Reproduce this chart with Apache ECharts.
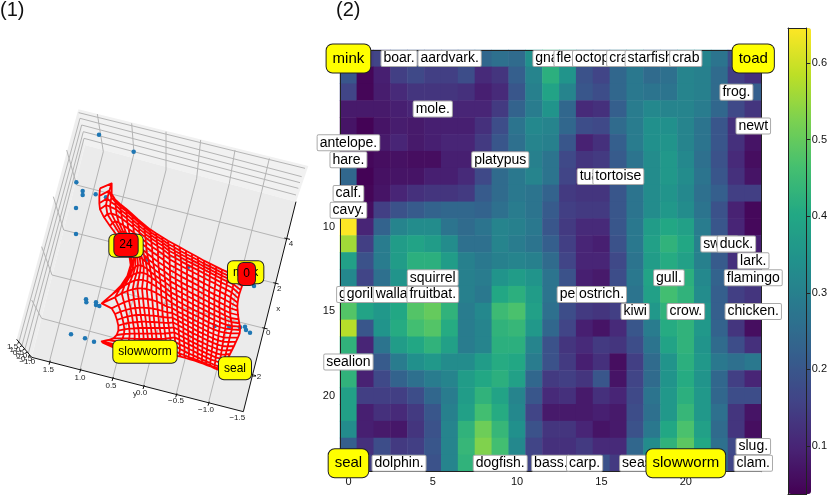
<!DOCTYPE html>
<html>
<head>
<meta charset="utf-8">
<style>html,body{margin:0;background:#fff}#chart{width:830px;height:495px}</style>
<script src="https://cdn.jsdelivr.net/npm/echarts@6/dist/echarts.min.js"></script>
</head>
<body>
<div id="chart"></div>
<script>
// (2) heat map values, rows top to bottom
const heatValues = [
  [.20,.15,.16,.20,.20,.20,.20,.22,.24,.26,.25,.34,.42,.36,.26,.24,.27,.30,.23,.24,.31,.31,.27,.18,.10],
  [.20,.045,.09,.15,.17,.15,.15,.18,.11,.13,.22,.31,.42,.35,.19,.16,.24,.28,.25,.26,.31,.30,.25,.15,.12],
  [.16,.045,.085,.11,.13,.13,.13,.12,.09,.11,.20,.30,.39,.31,.20,.18,.24,.28,.27,.27,.31,.30,.25,.20,.22],
  [.08,.08,.08,.09,.10,.10,.10,.10,.10,.14,.23,.29,.35,.24,.11,.12,.22,.29,.32,.31,.31,.29,.24,.17,.13],
  [.07,.04,.07,.085,.08,.09,.09,.09,.12,.18,.27,.32,.31,.24,.18,.17,.25,.29,.34,.34,.31,.27,.20,.12,.06],
  [.08,.06,.08,.10,.08,.09,.10,.10,.14,.20,.26,.31,.30,.20,.095,.12,.22,.29,.34,.35,.31,.27,.20,.12,.07],
  [.08,.05,.06,.065,.06,.06,.09,.09,.13,.17,.22,.30,.27,.17,.13,.14,.21,.27,.33,.36,.32,.26,.19,.11,.06],
  [.24,.04,.065,.07,.07,.09,.09,.11,.17,.25,.28,.31,.27,.16,.11,.13,.22,.27,.33,.36,.33,.27,.20,.12,.07],
  [.20,.045,.07,.10,.12,.13,.13,.14,.21,.25,.28,.27,.23,.14,.13,.13,.20,.27,.33,.35,.32,.26,.22,.15,.15],
  [.20,.06,.15,.19,.21,.23,.24,.24,.23,.26,.29,.27,.21,.15,.14,.14,.20,.27,.33,.36,.33,.27,.19,.095,.05],
  [.646,.10,.23,.31,.33,.33,.27,.25,.27,.31,.30,.28,.20,.14,.11,.11,.20,.28,.37,.40,.38,.29,.20,.10,.05],
  [.56,.15,.29,.37,.39,.37,.33,.26,.26,.31,.29,.27,.22,.15,.10,.09,.19,.28,.38,.43,.40,.30,.21,.13,.09],
  [.38,.19,.29,.37,.42,.42,.37,.30,.28,.30,.31,.30,.25,.16,.10,.10,.17,.27,.37,.41,.38,.30,.21,.12,.09],
  [.32,.16,.26,.35,.41,.42,.35,.30,.29,.35,.37,.35,.27,.19,.09,.08,.18,.28,.39,.44,.42,.32,.23,.15,.13],
  [.40,.35,.32,.38,.45,.48,.38,.30,.28,.40,.42,.37,.27,.20,.14,.13,.18,.27,.38,.46,.43,.33,.22,.15,.13],
  [.48,.39,.36,.40,.48,.50,.43,.29,.32,.45,.47,.38,.26,.18,.14,.13,.15,.27,.36,.43,.44,.35,.22,.15,.11],
  [.58,.20,.35,.41,.46,.48,.41,.29,.31,.43,.44,.36,.24,.16,.09,.07,.11,.20,.29,.41,.43,.36,.23,.13,.06],
  [.43,.10,.27,.37,.40,.43,.38,.29,.31,.42,.42,.31,.19,.13,.11,.14,.13,.18,.27,.39,.43,.35,.25,.18,.12],
  [.38,.22,.21,.29,.34,.36,.33,.33,.37,.41,.40,.29,.19,.14,.09,.12,.06,.15,.25,.35,.42,.36,.28,.26,.28],
  [.43,.095,.17,.23,.26,.29,.31,.37,.40,.42,.38,.24,.14,.15,.13,.20,.07,.16,.25,.35,.41,.35,.24,.15,.10],
  [.38,.15,.15,.15,.18,.24,.29,.37,.43,.39,.31,.20,.11,.12,.08,.12,.10,.17,.27,.36,.42,.36,.24,.18,.18],
  [.38,.09,.12,.11,.14,.20,.30,.38,.46,.41,.32,.16,.08,.08,.08,.09,.08,.18,.26,.36,.44,.36,.26,.13,.07],
  [.33,.09,.08,.075,.13,.19,.31,.43,.51,.44,.34,.19,.13,.13,.10,.07,.08,.19,.28,.40,.47,.38,.25,.13,.06],
  [.22,.12,.18,.14,.15,.20,.31,.44,.53,.46,.32,.16,.12,.12,.14,.11,.11,.24,.33,.43,.49,.40,.26,.17,.12],
  [.30,.15,.18,.20,.18,.19,.31,.43,.50,.44,.31,.16,.11,.12,.14,.19,.14,.24,.35,.44,.50,.40,.26,.16,.10]
];
const heatIndex = heatValues.map((_, i) => i);
const colorMin = 0.037, colorMax = 0.646;
const colorTicks = [0.1, 0.2, 0.3, 0.4, 0.5, 0.6];
const viridis = ['#440154','#482475','#414487','#355f8d','#2a788e','#21918c','#22a884','#44bf70','#7ad151','#bddf26','#fde725'];

// animals on the map, [name, column, row], later ones sit on top
const cornerAnimals = [['mink',0,0],['toad',24,0],['seal',0,24],['slowworm',20,24]];
const animals = [
  ['boar.',3,0],['aardvark.',6,0],['gnat.',12,0],['flea',13,0],['octopus.',15,0],['crayfish.',17,0],['starfish.',18,0],['crab',20,0],
  ['frog.',23,2],['mole.',5,3],['newt',24,4],['antelope.',0,5],['hare.',0,6],['platypus',9,6],['tuatara',15,7],['tortoise',16,7],
  ['calf.',0,8],['cavy.',0,9],['swan',22,11],['duck.',23,11],['lark.',24,12],['squirrel',5,13],['gull.',19,13],['flamingo',24,13],
  ['girl',0,14],['gorilla',1,14],['wallaby',3,14],['fruitbat.',5,14],['penguin',14,14],['ostrich.',15,14],
  ['kiwi',17,15],['crow.',20,15],['chicken.',24,15],['sealion',0,18],['slug.',24,23],
  ['dolphin.',3,24],['dogfish.',9,24],['bass.',12,24],['carp.',14,24],['seasnake',18,24],['clam.',24,24]
];

// (1) flattened view of the 3D plot, values read in view units
const wallPolys = [
  {pts:[[235,58],[255,165],[95,802],[50,748]], color:'#eeeeee'},
  {pts:[[235,58],[925,228],[888,335],[255,165]], color:'#f1f1f1'},
  {pts:[[255,165],[888,335],[730,965],[95,802]], color:'#ebebeb'}
];
const gridLines = [
  [[292,72],[310,185],[148,816]],[[395,100],[402,190],[240,840]],[[498,125],[498,240],[338,866]],
  [[602,150],[590,265],[430,890]],[[705,180],[688,280],[528,915]],[[808,205],[785,305],[625,940]],
  [[236,68],[915,235]],[[240,85],[905,260]],[[245,105],[900,278]],[[250,125],[895,295]],[[252,145],[888,315]],
  [[200,180],[230,285],[860,448]],[[160,320],[191,420],[826,580]],[[125,470],[156,555],[793,715]],[[95,630],[125,685],[758,855]],
  [[240,85],[57,755]],[[245,105],[66,766]],[[250,125],[75,777]],[[252,145],[85,790]]
];
const axisLines = [
  [[50,748],[95,802],[730,965],[888,335]],
  [[151,812],[147,824]],[[243,836],[239,848]],[[340,861],[336,873]],[[433,885],[429,897]],[[531,910],[527,922]],[[628,935],[624,947]],
  [[853,444],[870,448]],[[820,578],[836,582]],[[787,713],[803,717]],[[752,853],[768,857]],
  [[58,757],[52,760]],[[66,767],[60,770]],[[74,777],[68,780]],[[82,786],[76,789]],[[90,796],[84,799]]
];
const axisTexts = [
  ['1.5',145,838],['1.0',240,862],['0.5',333,888],['y',405,911],['0.0',425,909],['\u22120.5',528,933],['\u22121.0',618,958],['\u22121.5',712,982],
  ['4',873,462],['2',838,595],['x',835,657],['0',805,727],['\u22122',770,860],
  ['1.5',38,770],['1.0',45,778],['0.5',55,787],['0.0',65,797],['\u22120.5',73,806],['\u22121.0',82,815]
];
const scatterPoints = [[297,134],[401,185],[229,277],[248,303],[248,315],[287,313],[228,354],[228,432],[318,322],[438,510],[565,530],
  [258,628],[259,637],[288,637],[288,645],[298,648],[213,733],[255,745],[282,755],[644,708],[688,710],[720,712],[735,710],[738,720],[750,728],[762,588]];

const meshX = [
  [300,335,335,345,360,378,396,414,432,450,468,486,504,522,540,558,576,594,612,630,648,666,684,706,735],
  [298,328,334,346,361,379,397,415,433,451,469,487,505,523,540,558,576,594,612,630,648,665,683,704,730],
  [298,322,332,347,362,380,398,416,434,452,470,488,506,524,541,559,577,595,612,630,648,665,683,702,726],
  [300,318,330,348,364,381,399,417,435,453,471,489,507,525,542,560,577,595,612,630,647,664,681,700,722],
  [312,322,334,350,366,382,400,418,436,454,472,490,508,526,543,560,577,595,612,629,646,663,680,698,718],
  [330,338,346,357,370,385,402,420,438,456,474,491,509,527,544,561,578,595,612,629,646,662,678,695,715],
  [352,357,362,369,378,390,404,421,439,457,474,491,509,527,544,561,578,595,612,628,644,660,676,692,713],
  [375,378,381,385,391,400,411,425,441,458,475,492,510,527,544,561,578,595,611,627,643,659,675,691,712],
  [388,390,393,397,402,410,420,432,445,460,476,493,510,527,544,561,578,595,611,627,643,658,674,690,713],
  [392,396,401,406,412,419,427,437,449,463,478,494,511,528,545,562,578,595,611,627,643,658,674,690,714],
  [382,390,398,406,414,422,431,441,452,465,480,496,512,529,546,562,579,595,611,627,643,659,675,692,716],
  [362,376,388,399,410,420,431,443,455,468,482,497,513,530,546,563,579,595,611,627,643,659,676,694,718],
  [338,358,374,389,403,416,429,442,455,469,483,498,514,531,547,563,579,595,611,627,643,660,677,696,720],
  [305,345,365,382,398,412,426,440,454,469,484,499,515,531,547,563,579,595,610,626,642,659,676,696,720],
  [335,355,372,387,402,416,429,443,457,471,486,501,516,532,548,563,579,594,610,625,641,657,673,692,719],
  [345,362,378,392,406,419,432,446,459,473,487,502,517,533,548,564,579,594,609,624,640,655,671,689,714],
  [351,367,382,396,409,422,435,448,461,475,489,503,518,534,549,564,579,594,609,624,639,654,669,686,708],
  [355,371,386,399,412,425,438,450,463,477,491,505,519,535,550,564,579,594,608,623,638,652,667,683,702],
  [355,373,388,402,415,428,440,453,465,479,493,507,521,536,550,565,579,593,608,622,637,651,665,680,696],
  [350,372,389,404,417,430,442,455,468,482,495,509,523,537,551,565,579,593,607,621,635,649,663,677,690],
  [340,368,388,404,418,431,444,457,470,484,497,511,524,538,552,566,580,593,607,620,634,647,661,674,684],
  [325,360,384,402,418,432,445,459,472,486,499,512,526,539,553,567,580,593,606,619,632,646,659,671,678],
  [305,352,378,398,415,430,444,459,473,486,500,514,527,540,554,567,580,593,606,619,631,644,656,667,674],
  [305,345,370,390,408,424,439,454,468,482,496,510,524,538,552,566,580,593,606,618,630,642,653,663,670],
  [308,340,362,380,398,414,430,446,462,478,494,510,526,542,556,570,584,598,610,622,634,644,654,662,668]
];
const meshY = [
  [295,280,312,328,342,356,372,388,403,418,430,441,452,462,472,482,492,502,512,521,530,539,547,554,562],
  [318,302,322,336,350,364,380,396,411,426,438,449,462,472,482,492,501,511,521,530,539,548,556,563,575],
  [340,325,335,346,360,374,390,406,421,435,447,458,472,482,492,502,511,520,530,539,548,557,565,573,588],
  [358,345,350,358,372,386,401,416,431,445,457,468,482,492,502,512,521,530,539,548,557,566,574,583,600],
  [382,372,370,376,386,398,412,427,442,456,468,479,494,504,514,523,532,541,550,559,568,577,585,594,612],
  [408,398,394,398,406,416,428,442,457,470,482,494,508,518,528,537,546,555,564,573,581,590,598,607,625],
  [438,428,424,424,428,436,446,458,472,486,498,510,524,534,544,553,562,571,580,589,597,605,613,622,638],
  [470,460,452,450,452,458,466,477,490,503,516,527,540,550,560,569,578,587,596,605,613,621,629,638,650],
  [497,488,480,476,476,480,486,495,508,520,533,544,557,567,577,586,594,603,612,621,629,637,645,654,662],
  [525,516,508,502,500,502,507,515,526,538,550,561,574,583,593,602,611,620,628,637,645,653,661,669,675],
  [558,548,538,530,526,526,530,536,546,556,567,577,590,600,609,618,627,636,644,652,660,668,676,684,688],
  [588,574,562,554,549,547,549,554,563,572,583,594,607,616,625,634,643,651,659,667,675,683,690,696,700],
  [612,598,586,578,572,569,570,574,581,590,600,610,622,632,641,650,658,666,674,682,690,697,704,708,710],
  [640,622,610,603,598,595,595,597,602,609,618,627,638,648,657,665,673,681,689,697,704,711,716,718,720],
  [655,645,637,632,628,626,625,627,630,635,642,650,654,664,672,680,688,696,703,711,718,724,728,730,730],
  [672,665,660,656,654,653,653,654,656,659,663,667,669,678,686,694,702,710,717,725,732,738,742,743,742],
  [690,684,680,677,675,675,675,676,677,679,681,683,683,692,700,708,716,724,731,738,745,751,755,756,755],
  [707,702,699,697,696,695,695,696,696,697,698,699,697,706,714,722,730,737,744,751,758,764,768,769,768],
  [722,718,716,715,714,714,714,714,714,714,714,714,712,720,728,736,744,751,758,765,771,777,781,781,780],
  [735,732,731,731,731,731,731,731,731,731,730,729,727,735,742,750,757,764,771,778,784,790,794,793,792],
  [745,745,745,746,747,747,747,747,747,747,746,744,742,749,756,763,770,777,784,790,796,802,806,805,804],
  [750,756,758,760,761,761,762,762,762,762,761,759,756,763,770,777,783,790,796,802,808,813,818,817,816],
  [754,765,768,771,773,774,775,775,775,776,775,774,769,777,784,791,796,802,808,814,819,825,829,829,828],
  [756,770,773,776,778,780,781,782,783,784,784,784,783,790,795,801,806,811,816,821,826,831,835,837,838],
  [758,772,776,779,781,783,785,787,789,791,793,795,797,800,804,808,812,817,821,826,830,835,839,844,848]
];
const panelRed = [['0',740,552],['24',378,465]];
const panelYellowBack = [['mink',737,547],['toad',378,467]];
const panelYellowFront = [['slowworm',435,785],['seal',705,835]];

const fontName = 'Liberation Sans';
const chart = echarts.init(document.getElementById('chart'), null, {renderer: 'canvas'});

// one polyline list into a single line with breaks
function withBreaks(lines) {
  let out = [];
  lines.forEach(l => { out = out.concat(l); out.push([null, null]); });
  return out;
}
const meshRows = meshX.map((xs, r) => xs.map((x, c) => [x, meshY[r][c]]));
const meshCols = heatIndex.map(c => meshRows.map(row => row[c]));

function heatCells() {
  const out = [];
  heatValues.forEach((row, r) => row.forEach((v, c) => out.push([c, r, v])));
  return out;
}
function hiddenAxis(extra) {
  return Object.assign({type: 'value', show: false, splitLine: {show: false}}, extra);
}
function frameAxis(gridIndex, position, extra) {
  return Object.assign({
    gridIndex, position, z: 6,
    axisLine: {show: true, onZero: false, lineStyle: {color: '#222', width: 1}},
    axisTick: {show: false}, axisLabel: {show: false}, splitLine: {show: false}
  }, extra);
}
function animalLabels(list) {
  return list.map(a => ({name: a[0], value: [a[1], a[2]]}));
}
const fiveStep = i => i % 5 === 0;
const heatAxisText = {fontFamily: fontName, fontSize: 11, color: '#111', margin: 5};

function labelSeries(name, data, xi, yi, z, label) {
  return {
    name, type: 'scatter', xAxisIndex: xi, yAxisIndex: yi, z, clip: false, silent: true,
    symbolSize: 1, itemStyle: {color: 'transparent', opacity: 1}, data,
    label: Object.assign({show: true, position: 'inside', formatter: '{b}', fontFamily: fontName, color: '#000'}, label)
  };
}
const whiteBox = {fontSize: 14, lineHeight: 15, backgroundColor: '#fff', borderColor: '#aaa', borderWidth: 1, borderRadius: 1, padding: [0, 2]};
const bigYellow = {fontSize: 15, lineHeight: 16, backgroundColor: '#ffff00', borderColor: '#222', borderWidth: 1, borderRadius: 6, padding: [6, 6]};
const smallBox = color => ({fontSize: 12, lineHeight: 14, backgroundColor: color, borderColor: '#222', borderWidth: 1, borderRadius: 5, padding: [4, 5]});
const textItems = list => list.map(t => ({name: t[0], value: [t[1], t[2]]}));

const option = {
  animation: false,
  backgroundColor: '#fff',
  title: [
    {text: '(1)', left: 0, top: 0, padding: 0, textStyle: {fontFamily: fontName, fontSize: 20, fontWeight: 'normal', color: '#111'}},
    {text: '(2)', left: 336, top: 0, padding: 0, textStyle: {fontFamily: fontName, fontSize: 20, fontWeight: 'normal', color: '#111'}}
  ],
  grid: [
    {left: 0, top: 90, width: 310, height: 340},
    {left: 340, top: 50, width: 421.7, height: 421.7},
    {left: 788, top: 28, width: 23, height: 466}
  ],
  xAxis: [
    hiddenAxis({gridIndex: 0, min: 0, max: 930}),
    {type: 'category', gridIndex: 1, data: heatIndex, position: 'bottom', z: 6,
      axisLine: {onZero: false, lineStyle: {color: '#222', width: 1}},
      axisTick: {alignWithLabel: true, interval: fiveStep, length: 3.5, lineStyle: {color: '#222'}},
      axisLabel: Object.assign({interval: fiveStep}, heatAxisText), splitLine: {show: false}},
    frameAxis(1, 'top', {type: 'category', data: heatIndex}),
    frameAxis(2, 'top', {type: 'value', min: 0, max: 1}),
    frameAxis(2, 'bottom', {type: 'value', min: 0, max: 1})
  ],
  yAxis: [
    hiddenAxis({gridIndex: 0, min: 0, max: 1020, inverse: true}),
    {type: 'category', gridIndex: 1, data: heatIndex, inverse: true, position: 'left', z: 6,
      axisLine: {onZero: false, lineStyle: {color: '#222', width: 1}},
      axisTick: {alignWithLabel: true, interval: fiveStep, length: 3.5, lineStyle: {color: '#222'}},
      axisLabel: Object.assign({interval: fiveStep}, heatAxisText), splitLine: {show: false}},
    frameAxis(1, 'right', {type: 'category', data: heatIndex, inverse: true}),
    frameAxis(2, 'left', {type: 'value', min: colorMin, max: colorMax}),
    {type: 'value', gridIndex: 2, position: 'right', min: colorMin, max: colorMax, z: 6,
      axisLine: {show: true, onZero: false, lineStyle: {color: '#222', width: 1}},
      axisTick: {show: true, length: 3.5, customValues: colorTicks, lineStyle: {color: '#222'}},
      axisLabel: {fontFamily: fontName, fontSize: 11, color: '#111', margin: 5,
        customValues: colorTicks, formatter: v => v.toFixed(1)},
      splitLine: {show: false}}
  ],
  visualMap: {
    type: 'continuous', seriesIndex: 6, min: colorMin, max: colorMax, calculable: false, hoverLink: false,
    left: 788, top: 28, itemWidth: 23, itemHeight: 466, padding: 0, z: 3,
    inRange: {color: viridis}
  },
  series: [
    {name: 'walls', type: 'custom', xAxisIndex: 0, yAxisIndex: 0, z: 1, silent: true, clip: false,
      data: wallPolys.map((w, i) => [i]),
      renderItem: (params, api) => {
        const w = wallPolys[params.dataIndex];
        return {type: 'polygon', shape: {points: w.pts.map(p => api.coord(p))}, style: {fill: w.color}};
      }},
    {name: 'grid', type: 'line', xAxisIndex: 0, yAxisIndex: 0, z: 2, silent: true, showSymbol: false, clip: false,
      data: withBreaks(gridLines), lineStyle: {color: '#b4b4b4', width: 1}},
    {name: 'axes', type: 'line', xAxisIndex: 0, yAxisIndex: 0, z: 3, silent: true, showSymbol: false, clip: false,
      data: withBreaks(axisLines), lineStyle: {color: '#111', width: 1}},
    {name: 'points', type: 'scatter', xAxisIndex: 0, yAxisIndex: 0, z: 3, silent: true, clip: false,
      data: scatterPoints, symbolSize: 4.5, itemStyle: {color: '#1f77b4', opacity: 1}},
    {name: 'mesh', type: 'line', xAxisIndex: 0, yAxisIndex: 0, z: 4, silent: true, showSymbol: false, clip: false,
      data: withBreaks(meshRows.concat(meshCols)), lineStyle: {color: '#ff0000', width: 1.8, join: 'round'}},
    labelSeries('ticktext', textItems(axisTexts), 0, 0, 5, {fontSize: 8, color: '#222'}),
    {name: 'heat', type: 'heatmap', xAxisIndex: 1, yAxisIndex: 1, z: 2, data: heatCells(), silent: true, progressive: 0,
      itemStyle: {borderWidth: 0}},
    labelSeries('animals', animalLabels(animals), 1, 1, 7, whiteBox),
    labelSeries('corners', animalLabels(cornerAnimals), 1, 1, 8, bigYellow),
    labelSeries('panelYellowBack', textItems(panelYellowBack), 0, 0, 6, smallBox('#ffff00')),
    labelSeries('panelRed', textItems(panelRed), 0, 0, 7, smallBox('#ff0000')),
    labelSeries('panelYellowFront', textItems(panelYellowFront), 0, 0, 8, smallBox('#ffff00'))
  ]
};
chart.setOption(option);
</script>
</body>
</html>
